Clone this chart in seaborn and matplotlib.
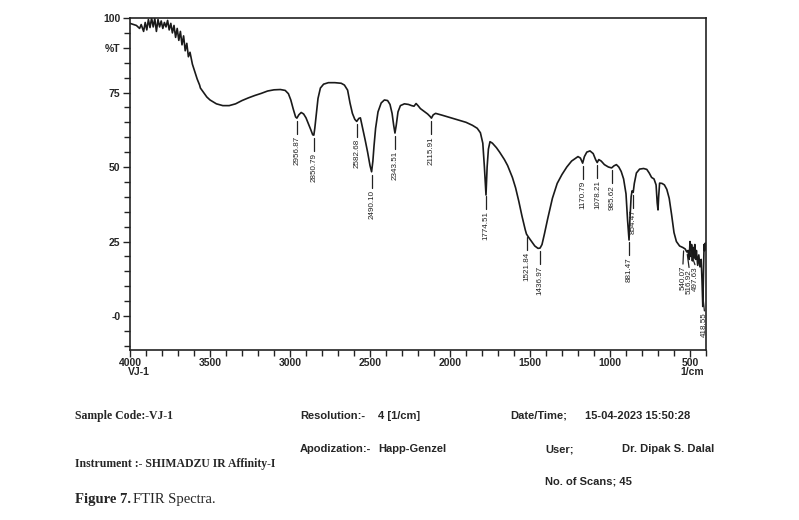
import numpy as np
import pandas as pd
import matplotlib.pyplot as plt
from matplotlib.ticker import MultipleLocator, FixedLocator, FixedFormatter
import seaborn as sns

# spectrum (wavenumber in 1/cm, transmittance in %T)
wavenumber = [
    4000, 3960, 3940, 3930, 3915, 3905, 3895, 3885, 3875, 3865, 3855, 3845, 3835, 3825,
    3815, 3805, 3795, 3785, 3775, 3765, 3755, 3745, 3735, 3725, 3715, 3705, 3695, 3685,
    3675, 3665, 3655, 3645, 3635, 3625, 3610, 3595, 3580, 3565, 3560, 3540, 3520, 3500,
    3460, 3420, 3380, 3340, 3300, 3260, 3220, 3180, 3140, 3100, 3060, 3030, 3010, 2995,
    2980, 2965, 2957, 2945, 2930, 2915, 2900, 2885, 2870, 2858, 2851, 2845, 2835, 2825,
    2810, 2790, 2760, 2720, 2680, 2660, 2640, 2625, 2610, 2595, 2583, 2570, 2560, 2548,
    2530, 2515, 2500, 2490, 2482, 2475, 2465, 2450, 2430, 2410, 2390, 2375, 2362, 2352,
    2344, 2336, 2325, 2310, 2285, 2260, 2240, 2225, 2212, 2200, 2185, 2165, 2140, 2125,
    2116, 2105, 2090, 2050, 2000, 1950, 1900, 1860, 1830, 1810, 1795, 1785, 1775, 1768,
    1760, 1750, 1735, 1710, 1690, 1660, 1640, 1610, 1590, 1570, 1550, 1530, 1522, 1510,
    1490, 1470, 1450, 1437, 1425, 1410, 1390, 1360, 1330, 1300, 1270, 1240, 1200, 1185,
    1171, 1160, 1145, 1125, 1105, 1090, 1080, 1070, 1055, 1035, 1010, 990, 975, 960,
    945, 930, 915, 900, 890, 881, 875, 868, 862, 855, 848, 835, 815, 790,
    770, 755, 740, 725, 712, 705, 700, 696, 690, 675, 660, 645, 630, 615,
    600, 585, 565, 545, 530, 520, 512, 505, 500, 495, 490, 485, 480, 475,
    470, 465, 460, 452, 445, 438, 430, 425, 420, 416, 412, 408, 404, 400,
]
transmittance = [
    98.2, 97.5, 96.5, 97.8, 95.5, 98.5, 96.0, 99.5, 96.8, 100.0, 97.0, 99.8, 95.5, 99.5,
    97.0, 99.0, 96.5, 98.5, 97.0, 99.2, 96.0, 98.2, 95.0, 97.5, 93.5, 96.5, 92.5, 95.5,
    91.0, 94.0, 89.0, 91.5, 87.0, 88.5, 84.5, 82.0, 79.5, 77.5, 76.5, 75.0, 73.5, 72.5,
    71.2, 70.6, 70.6, 71.2, 72.3, 73.2, 74.0, 74.7, 75.5, 75.9, 76.0, 75.7, 74.6, 72.5,
    69.5, 66.8, 66.4, 67.5, 68.3, 67.8, 66.5, 64.5, 62.5, 60.8, 60.7, 63.0, 68.0, 73.0,
    76.5, 77.8, 78.3, 78.3, 78.1, 77.5, 75.8, 71.5, 68.0, 66.0, 65.3, 66.3, 66.5, 63.5,
    59.0, 55.0, 50.5, 48.4, 52.0, 57.0, 63.0, 68.5, 71.5, 72.5, 72.3, 71.0, 68.0, 64.0,
    61.4, 64.0, 68.5, 70.6, 71.2, 71.0, 70.6, 70.4, 71.3, 70.6, 69.6, 68.8, 67.8, 67.0,
    66.4, 67.5, 68.0, 67.4, 66.6, 65.8, 65.0, 64.0, 63.0, 61.5, 58.0, 50.0, 40.6, 50.0,
    56.0, 58.5, 58.0, 56.5, 55.0, 52.5, 50.5, 46.5, 43.0, 38.5, 33.5, 29.0, 27.5, 26.5,
    25.0, 23.5, 22.7, 22.8, 24.0, 27.5, 32.5, 39.5, 44.5, 47.5, 50.0, 52.0, 53.5, 53.0,
    51.3, 53.5, 55.0, 55.4, 54.5, 52.5, 51.5, 52.5, 52.0, 50.8, 50.0, 49.7, 50.4, 50.8,
    50.0, 48.5, 46.0, 41.0, 32.0, 25.5, 33.0, 40.0, 42.0, 41.5, 44.5, 48.0, 49.3, 49.5,
    49.2, 48.0, 46.5, 46.0, 44.0, 38.0, 35.6, 40.0, 44.6, 44.5, 44.0, 42.5, 39.5, 34.0,
    28.0, 25.0, 23.5, 23.0, 22.5, 21.5, 22.0, 19.0, 25.0, 20.0, 24.0, 18.5, 23.0, 19.5,
    24.0, 19.0, 22.0, 17.0, 20.5, 16.5, 19.0, 12.0, 3.2, 14.0, 24.0, 22.0, 24.5, 23.0,
]

peak_labels = ["2956.87", "2850.79", "2582.68", "2490.10", "2343.51", "2115.91",
               "1774.51", "1521.84", "1436.97", "1170.79", "1078.21", "985.62",
               "881.47", "854.47", "540.07", "516.92", "497.63", "418.55"]
peak_text_wn = [2956.87, 2850.79, 2582.68, 2490.10, 2343.51, 2115.91,
                1774.51, 1521.84, 1436.97, 1170.79, 1078.21, 985.62,
                881.47, 854.47, 544, 506, 469, 410]

x_ticks = [4000, 3500, 3000, 2500, 2000, 1500, 1000, 500]
y_ticks = [100, 90, 75, 50, 25, 0]
y_tick_labels = ["100", "%T", "75", "50", "25", "-0"]

W, H = 799, 520

sns.set_style("ticks")
plt.rcParams["font.family"] = ["Liberation Sans", "DejaVu Sans"]

fig = plt.figure(figsize=(W / 100, H / 100), dpi=100)
ax = fig.add_axes([130 / W, 1 - 350 / H, 576 / W, 332 / H])

df = pd.DataFrame({"wn": wavenumber, "T": transmittance})
sns.lineplot(data=df, x="wn", y="T", sort=False, estimator=None,
             color="#1a1a1a", linewidth=1.2, ax=ax)

ax.set_xlim(4000, 400)
ax.set_ylim(-11.4, 100)
ax.set_xlabel("")
ax.set_ylabel("")

ax.xaxis.set_major_locator(FixedLocator(x_ticks))
ax.xaxis.set_minor_locator(MultipleLocator(100))
ax.yaxis.set_major_locator(FixedLocator(y_ticks))
ax.yaxis.set_major_formatter(FixedFormatter(y_tick_labels))
ax.yaxis.set_minor_locator(MultipleLocator(5))
ax.tick_params(axis="both", which="major", length=5, width=1, color="#222222",
               labelsize=7.5, pad=2)
ax.tick_params(axis="x", which="major", pad=0.5)
ax.tick_params(axis="both", which="minor", length=4, width=1, color="#222222")
for lab in ax.get_xticklabels() + ax.get_yticklabels():
    lab.set_fontweight("bold")
for sp in ax.spines.values():
    sp.set_visible(True)
    sp.set_linewidth(1.2)
    sp.set_color("#222222")

# peak markers
wn_inc = np.array(wavenumber[::-1], dtype=float)
t_inc = np.array(transmittance[::-1], dtype=float)
for lab, tx in zip(peak_labels, peak_text_wn):
    pw = float(lab)
    py = np.interp(pw, wn_inc, t_inc)
    top = py - 1.0
    bot = top - 4.4
    ax.plot([pw, tx], [top, bot], color="#222222", linewidth=0.9)
    ax.text(tx, bot - 0.6, lab, rotation=90, ha="center", va="top",
            fontsize=5.8, color="#222222")


def ftext(x, y, s, **kw):
    kw.setdefault("ha", "left")
    fig.text(x / W, 1 - y / H, s, va="center", **kw)


ftext(128, 372, "VJ-1", fontsize=7.5, fontweight="bold")
ftext(704, 372, "1/cm", fontsize=7.5, fontweight="bold", ha="right")

serif = ["Liberation Serif", "DejaVu Serif"]
ftext(75, 416, "Sample Code:-VJ-1", family=serif, fontsize=8.5, fontweight="bold")
ftext(300, 416, "Resolution:-", fontsize=8, fontweight="bold")
ftext(378, 416, "4 [1/cm]", fontsize=8, fontweight="bold")
ftext(510, 416, "Date/Time;", fontsize=8, fontweight="bold")
ftext(585, 416, "15-04-2023 15:50:28", fontsize=8, fontweight="bold")
ftext(300, 449, "Apodization:-", fontsize=8, fontweight="bold")
ftext(378, 449, "Happ-Genzel", fontsize=8, fontweight="bold")
ftext(545, 449, "User;", fontsize=8, fontweight="bold")
ftext(622, 449, "Dr. Dipak S. Dalal", fontsize=8, fontweight="bold")
ftext(75, 464, "Instrument :- SHIMADZU IR Affinity-I", family=serif, fontsize=8.5,
      fontweight="bold")
ftext(545, 482, "No. of Scans; 45", fontsize=8, fontweight="bold")
ftext(75, 500, "Figure 7.", family=serif, fontsize=10.5, fontweight="bold")
ftext(133, 500, "FTIR Spectra.", family=serif, fontsize=10.5)

fig.savefig("out.png", dpi=100, facecolor="white")
